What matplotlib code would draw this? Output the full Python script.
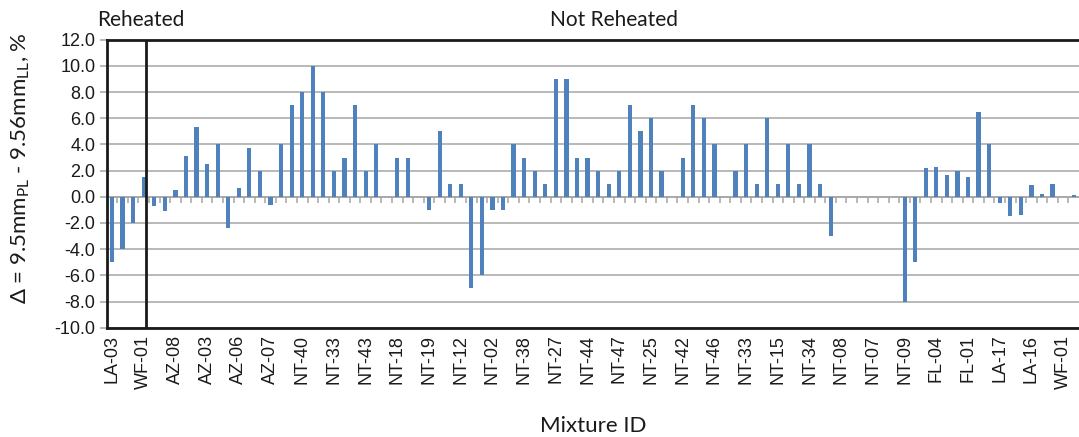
import numpy as np
import matplotlib.pyplot as plt

plt.rcParams["mathtext.fontset"] = "custom"
plt.rcParams["mathtext.rm"] = "Lato"
plt.rcParams["mathtext.it"] = "Lato:italic"
plt.rcParams["mathtext.fallback"] = "stixsans"

# data (one value per mixture, 92 mixtures)
delta = [
    -5.0, -4.0, -2.0, 1.5,
    -0.7, -1.1, 0.5, 3.1, 5.3, 2.5, 4.0, -2.4, 0.7, 3.7, 2.0, -0.6,
    4.0, 7.0, 8.0, 10.0, 8.0, 2.0, 3.0, 7.0, 2.0, 4.0, 0.0, 3.0,
    3.0, 0.0, -1.0, 5.0, 1.0, 1.0, -7.0, -6.0, -1.0, -1.0, 4.0, 3.0,
    2.0, 1.0, 9.0, 9.0, 3.0, 3.0, 2.0, 1.0, 2.0, 7.0, 5.0, 6.0,
    2.0, 0.0, 3.0, 7.0, 6.0, 4.0, 0.0, 2.0, 4.0, 1.0, 6.0, 1.0,
    4.0, 1.0, 4.0, 1.0, -3.0, 0.0, 0.0, 0.0, 0.0, 0.0, 0.0, -8.0,
    -5.0, 2.2, 2.3, 1.7, 2.0, 1.5, 6.5, 4.0, -0.5, -1.5, -1.4, 0.9,
    0.2, 1.0, 0.0, 0.15,
]
# only every third mixture is labelled on the axis
tick_labels = [
    "LA-03", "WF-01", "AZ-08", "AZ-03", "AZ-06", "AZ-07", "NT-40", "NT-33",
    "NT-43", "NT-18", "NT-19", "NT-12", "NT-02", "NT-38", "NT-27", "NT-44",
    "NT-47", "NT-25", "NT-42", "NT-46", "NT-33", "NT-15", "NT-34", "NT-08",
    "NT-07", "NT-09", "FL-04", "FL-01", "LA-17", "LA-16", "WF-01",
]
label_step = 3
n_reheated = 4

x = np.arange(len(delta))

fig = plt.figure(figsize=(10.79, 4.37), dpi=100)
ax = fig.add_axes([0.0989, 0.2501, 0.9011, 0.6591])

# grid
ax.set_ylim(-10, 12)
ax.set_yticks(np.arange(-10, 12.1, 2))
ax.yaxis.grid(True, color="#a6a6a6", linewidth=1.1)
ax.set_axisbelow(True)

# bars
ax.bar(x, delta, width=0.4, color="#4f81bd", zorder=3)

# category axis drawn at zero with tick marks between categories
ax.axhline(0, color="#a6a6a6", linewidth=1.1, zorder=2)
ax.vlines(x[:-1] + 0.5, -0.45, 0, color="#a6a6a6", linewidth=1.1, zorder=2)

ax.set_xlim(-0.5, len(delta) - 0.5)
ax.set_xticks(x[::label_step])
ax.set_xticklabels(tick_labels, rotation=90, fontsize=13,
                   family="Liberation Sans", color="#1a1a1a")
ax.tick_params(axis="x", length=0, pad=5)
ax.tick_params(axis="y", length=5, color="#a6a6a6", width=1.1,
               labelsize=13, pad=3, labelcolor="#1a1a1a")
ax.set_yticklabels([f"{v:.1f}" for v in ax.get_yticks()],
                   family="Liberation Sans")

for s in ax.spines.values():
    s.set_color("#1a1a1a")
    s.set_linewidth(2)
ax.spines["right"].set_visible(False)

# reheated / not reheated split
ax.axvline(n_reheated - 0.8, color="#1a1a1a", linewidth=2, zorder=4)
ax.text(-1.4, 1.035, "Reheated", transform=ax.get_xaxis_transform(),
        fontsize=15, family="Lato", ha="left", va="bottom", color="#1a1a1a")
ax.text(47.5, 1.035, "Not Reheated", transform=ax.get_xaxis_transform(),
        fontsize=15, family="Lato", ha="center", va="bottom", color="#1a1a1a")

ax.set_xlabel("Mixture ID", fontsize=16, family="Lato", color="#1a1a1a",
              labelpad=20)
ax.set_ylabel(r"$\Delta$ = 9.5mm$_{\mathrm{PL}}$ - 9.56mm$_{\mathrm{LL}}$, %",
              fontsize=16, family="Lato", color="#1a1a1a")
ax.yaxis.set_label_coords(-0.077, 0.555)

fig.savefig("out.png", dpi=100)
